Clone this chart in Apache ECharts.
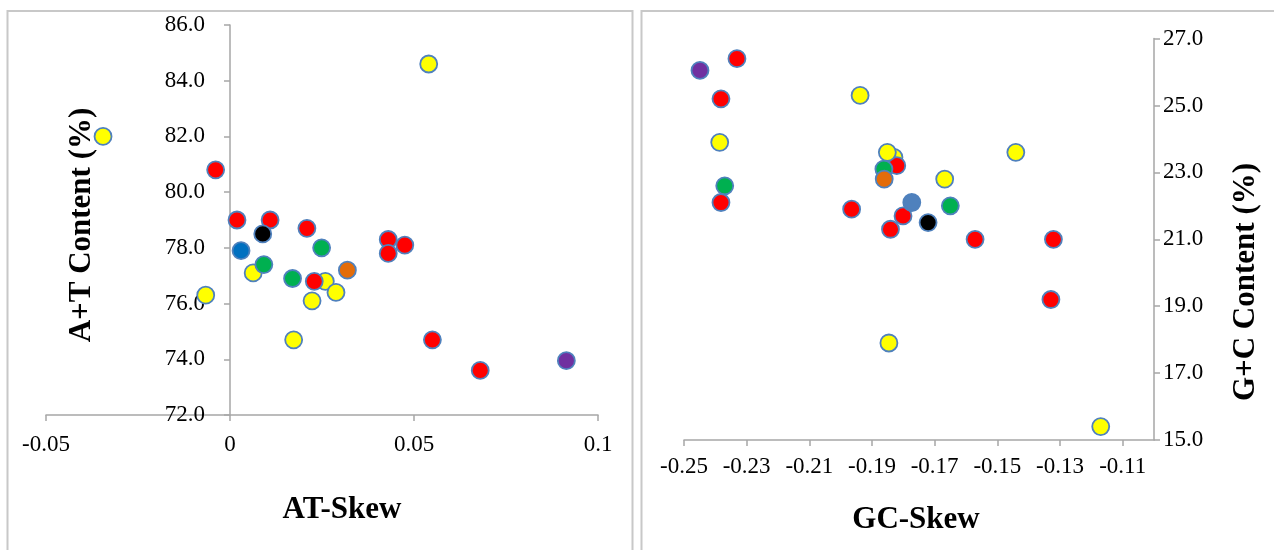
<!DOCTYPE html>
<html>
<head>
<meta charset="utf-8">
<script src="https://cdn.jsdelivr.net/npm/echarts@6/dist/echarts.min.js"></script>
<style>
html,body{margin:0;padding:0;background:#fff;}
#c{width:1274px;height:550px;}
</style>
</head>
<body>
<div id="c"></div>
<script>
// ---- Data ----
// Left panel: AT-skew vs A+T content (%)
var atSkew    = [-0.0345, -0.0066, 0.0063, 0.0259, 0.0288, 0.0223, 0.0173, 0.0540, -0.0039, 0.0019, 0.0109, 0.0089, 0.0030, 0.0209, 0.0249, 0.0092, 0.0170, 0.0229, 0.0319, 0.0430, 0.0430, 0.0475, 0.0550, 0.0680, 0.0914];
var atContent = [82.0, 76.3, 77.1, 76.8, 76.4, 76.1, 74.7, 84.6, 80.8, 79.0, 79.0, 78.5, 77.9, 78.7, 78.0, 77.4, 76.9, 76.8, 77.2, 78.3, 77.8, 78.1, 74.7, 73.6, 73.95];
var atGroup   = ['Y','Y','Y','Y','Y','Y','Y','Y','R','R','R','K','B','R','G','G','G','R','O','R','R','R','R','R','P'];

// Right panel: GC-skew vs G+C content (%)
var gcSkew    = [-0.1830, -0.2449, -0.2331, -0.2382, -0.2386, -0.2370, -0.2382, -0.1938, -0.1821, -0.1862, -0.1861, -0.1851, -0.1668, -0.1441, -0.1801, -0.1773, -0.1650, -0.1965, -0.1841, -0.1721, -0.1571, -0.1321, -0.1329, -0.1846, -0.1170];
var gcContent = [23.45, 26.05, 26.4, 25.2, 23.9, 22.6, 22.1, 25.3, 23.2, 23.1, 22.8, 23.6, 22.8, 23.6, 21.7, 22.1, 22.0, 21.9, 21.3, 21.5, 21.0, 21.0, 19.2, 17.9, 15.4];
var gcGroup   = ['Y','P','R','R','Y','G','R','Y','R','G','O','Y','Y','Y','R','B','G','R','R','K','R','R','R','Y','Y'];

// Axis ticks
var atXTicks = {min: -0.05, max: 0.1, interval: 0.05};
var atYTicks = {min: 72, max: 86, interval: 2};
var gcXTicks = {min: -0.25, max: -0.10, interval: 0.02};
var gcYTicks = {min: 15, max: 27, interval: 2};

// ---- Styles ----
var leftColors  = {Y:'#FFFF00', R:'#FF0000', G:'#00B050', K:'#000000', B:'#0070C0', O:'#E36C09', P:'#7030A0'};
var rightColors = {Y:'#FFFF00', R:'#FF0000', G:'#00B050', K:'#000000', B:'#4F81BD', O:'#E36C09', P:'#7030A0'};
var FONT = '"Liberation Serif", "Times New Roman", serif';
var axisColor = '#A6A6A6';

function buildData(xs, ys, gs, cmap) {
  return xs.map(function (x, i) {
    return {value: [x, ys[i]], itemStyle: {color: cmap[gs[i]]}};
  });
}

var chart = echarts.init(document.getElementById('c'), null, {renderer: 'canvas'});

var labelStyle = {color: '#000', fontFamily: FONT, fontSize: 23};
var gridL = {left: 46, right: 676, top: 25, bottom: 135};
// y-axis of left panel crosses the x-axis at AT-skew = 0
var zeroOffset = -(0 - atXTicks.min) / (atXTicks.max - atXTicks.min) * (1274 - gridL.left - gridL.right);

chart.setOption({
  animation: false,
  backgroundColor: '#ffffff',
  grid: [
    Object.assign({containLabel: false, outerBoundsMode: 'none'}, gridL),
    {left: 684, right: 120, top: 38.6, bottom: 110, containLabel: false, outerBoundsMode: 'none'}
  ],
  xAxis: [
    {
      type: 'value', gridIndex: 0,
      min: atXTicks.min, max: atXTicks.max, interval: atXTicks.interval,
      splitLine: {show: false},
      axisLine: {onZero: false, lineStyle: {color: axisColor, width: 1.5}},
      axisTick: {show: true, length: 6, lineStyle: {color: axisColor, width: 1.5}},
      axisLabel: Object.assign({margin: 18, formatter: function (v) { return String(+v.toFixed(2)); }}, labelStyle)
    },
    {
      type: 'value', gridIndex: 1,
      min: gcXTicks.min, max: gcXTicks.max, interval: gcXTicks.interval,
      splitLine: {show: false},
      axisLine: {onZero: false, lineStyle: {color: axisColor, width: 1.5}},
      axisTick: {show: true, length: 6, lineStyle: {color: axisColor, width: 1.5}},
      axisLabel: Object.assign({margin: 15, showMaxLabel: false, formatter: function (v) { return v.toFixed(2); }}, labelStyle)
    }
  ],
  yAxis: [
    {
      type: 'value', gridIndex: 0, position: 'left', offset: zeroOffset,
      min: atYTicks.min, max: atYTicks.max, interval: atYTicks.interval,
      splitLine: {show: false},
      axisLine: {onZero: false, lineStyle: {color: axisColor, width: 1.5}},
      axisTick: {show: true, length: 6, lineStyle: {color: axisColor, width: 1.5}},
      axisLabel: Object.assign({margin: 25, formatter: function (v) { return v.toFixed(1); }}, labelStyle)
    },
    {
      type: 'value', gridIndex: 1, position: 'right',
      min: gcYTicks.min, max: gcYTicks.max, interval: gcYTicks.interval,
      splitLine: {show: false},
      axisLine: {onZero: false, lineStyle: {color: axisColor, width: 1.5}},
      axisTick: {show: true, length: 6, lineStyle: {color: axisColor, width: 1.5}},
      axisLabel: Object.assign({margin: 9, formatter: function (v) { return v.toFixed(1); }}, labelStyle)
    }
  ],
  series: [
    {
      type: 'scatter', xAxisIndex: 0, yAxisIndex: 0,
      symbolSize: 17,
      itemStyle: {borderColor: '#4F81BD', borderWidth: 1.8, opacity: 1},
      data: buildData(atSkew, atContent, atGroup, leftColors)
    },
    {
      type: 'scatter', xAxisIndex: 1, yAxisIndex: 1,
      symbolSize: 17,
      itemStyle: {borderColor: '#4F81BD', borderWidth: 1.8, opacity: 1},
      data: buildData(gcSkew, gcContent, gcGroup, rightColors)
    }
  ],
  graphic: [
    {type: 'rect', shape: {x: 7.5, y: 11, width: 625, height: 600}, style: {fill: 'none', stroke: '#C8C8C8', lineWidth: 2}, z: -1},
    {type: 'rect', shape: {x: 641.5, y: 11, width: 700, height: 600}, style: {fill: 'none', stroke: '#C8C8C8', lineWidth: 2}, z: -1},
    {type: 'text', x: 342, y: 510, style: {text: 'AT-Skew', font: 'bold 31px ' + FONT, fill: '#000', textAlign: 'center', textVerticalAlign: 'middle'}},
    {type: 'text', x: 916, y: 520, style: {text: 'GC-Skew', font: 'bold 31px ' + FONT, fill: '#000', textAlign: 'center', textVerticalAlign: 'middle'}},
    {type: 'text', x: 82, y: 225, rotation: Math.PI / 2, style: {text: 'A+T Content (%)', font: 'bold 31px ' + FONT, fill: '#000', textAlign: 'center', textVerticalAlign: 'middle'}},
    {type: 'text', x: 1246, y: 282, rotation: Math.PI / 2, style: {text: 'G+C Content (%)', font: 'bold 31px ' + FONT, fill: '#000', textAlign: 'center', textVerticalAlign: 'middle'}}
  ]
});
</script>
</body>
</html>
